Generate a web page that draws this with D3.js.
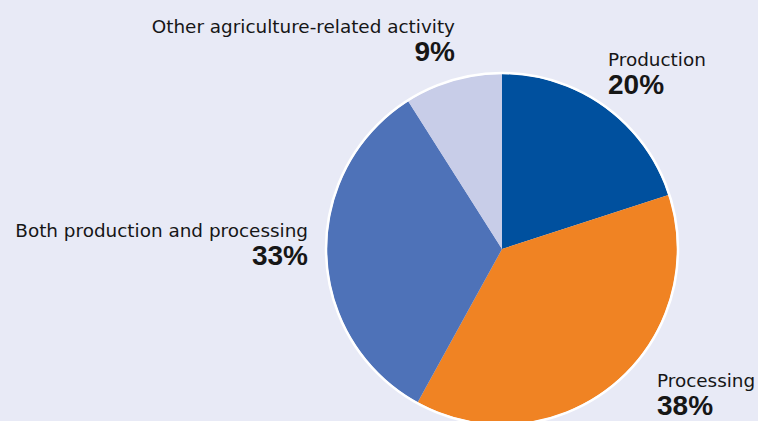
<!DOCTYPE html>
<html>
<head>
<meta charset="utf-8">
<script src="https://cdn.jsdelivr.net/npm/d3@7"></script>
<style>
  html, body { margin: 0; padding: 0; background: #e8eaf6; }
  svg { display: block; }
  text { fill: #161616; }
  .name { font-family: "DejaVu Sans", sans-serif; }
  .pct { font-family: "Liberation Sans", Arial, sans-serif; font-weight: bold; }
</style>
</head>
<body>
<svg id="chart" width="758" height="421"></svg>
<script>
// Share of activity type (percent), clockwise from 12 o'clock
const categories = ["Production", "Processing", "Both production and processing", "Other agriculture-related activity"];
const shares = [20, 38, 33, 9];
const colors = ["#00509e", "#f08323", "#4e72b8", "#c8cde8"];

// Label placement: anchor and position of each two-line label
const labelPos = [
  { x: 608, y: 66, anchor: "start" },
  { x: 657, y: 387, anchor: "start" },
  { x: 308, y: 237, anchor: "end" },
  { x: 455, y: 33, anchor: "end" }
];

const svg = d3.select("#chart");
const W = 758, H = 421;
svg.append("rect").attr("width", W).attr("height", H).attr("fill", "#e8eaf6");

const cx = 502, cy = 249, r = 175;

const pie = d3.pie().sort(null).value(d => d)
  .startAngle(0).endAngle(2 * Math.PI);
const arcs = pie(shares);
const arc = d3.arc().innerRadius(0).outerRadius(r);

const g = svg.append("g").attr("transform", `translate(${cx},${cy})`);

g.selectAll("path.slice")
  .data(arcs)
  .join("path")
  .attr("class", "slice")
  .attr("d", arc)
  .attr("fill", (d, i) => colors[i]);

// white rim around the pie
g.append("circle")
  .attr("r", r + 1)
  .attr("fill", "none")
  .attr("stroke", "#ffffff")
  .attr("stroke-width", 2.5);

const labels = svg.selectAll("g.label")
  .data(arcs)
  .join("g")
  .attr("class", "label");

labels.append("text")
  .attr("class", "name")
  .attr("x", (d, i) => labelPos[i].x)
  .attr("y", (d, i) => labelPos[i].y)
  .attr("text-anchor", (d, i) => labelPos[i].anchor)
  .attr("font-size", 18.4)
  .text((d, i) => categories[i]);

labels.append("text")
  .attr("class", "pct")
  .attr("x", (d, i) => labelPos[i].x)
  .attr("y", (d, i) => labelPos[i].y + 28)
  .attr("text-anchor", (d, i) => labelPos[i].anchor)
  .attr("font-size", 28)
  .text(d => d.data + "%");
</script>
</body>
</html>
